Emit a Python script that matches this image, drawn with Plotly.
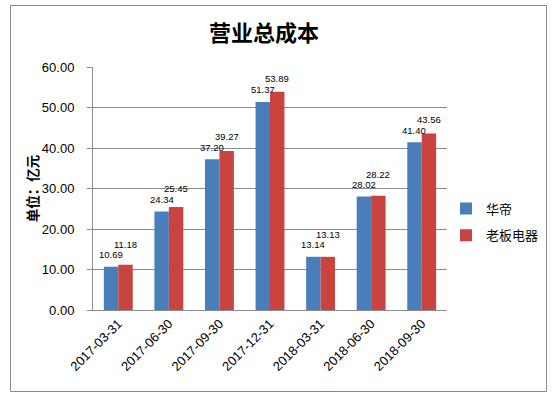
import plotly.graph_objects as go

categories = ["2017-03-31", "2017-06-30", "2017-09-30", "2017-12-31",
              "2018-03-31", "2018-06-30", "2018-09-30"]
huadi = [10.69, 24.34, 37.20, 51.37, 13.14, 28.02, 41.40]
laoban = [11.18, 25.45, 39.27, 53.89, 13.13, 28.22, 43.56]
series_names = ["华帝", "老板电器"]
y_ticks = [0, 10, 20, 30, 40, 50, 60]

BLUE = "#4A7EBB"
RED = "#C9433F"
GRID = "#8C8C8C"
FONT = "Liberation Sans, Arial, sans-serif"
CJK = "Noto Sans CJK SC, sans-serif"

W, H = 557, 397
L, R, T, B = 93, 110, 67, 87
plot_w = W - L - R
plot_h = H - T - B
ppu = plot_h / 60.0

fig = go.Figure()
fig.add_trace(go.Bar(x=categories, y=huadi, name=series_names[0], legendgroup="g1",
                     marker=dict(color=BLUE, line=dict(width=0))))
fig.add_trace(go.Bar(x=categories, y=laoban, name=series_names[1], legendgroup="g2",
                     marker=dict(color=RED, line=dict(width=0))))

slot = plot_w / len(categories)
bar_w = slot / 3.5
annotations = []
for c, b, r in zip(categories, huadi, laoban):
    annotations.append(dict(x=c, y=b, xref="x", yref="y", text=f"{b:.2f}",
                            showarrow=False, xshift=-bar_w / 2, yshift=12,
                            yanchor="middle", font=dict(size=9.5, color="#000", family=FONT)))
    rs = max(13, (b - r) * ppu + 12 + 10.5)
    annotations.append(dict(x=c, y=r, xref="x", yref="y", text=f"{r:.2f}",
                            showarrow=False, xshift=bar_w / 2, yshift=rs,
                            yanchor="middle", font=dict(size=9.5, color="#000", family=FONT)))

def px_x(p):
    return (p - L) / plot_w

def px_y(p):
    return (H - B - p) / plot_h

BL, BR, BT, BB = 10.5, 546.5, 5.5, 391.5
border = dict(color="#8A8A8A", width=1)
shapes = [
    dict(type="line", xref="paper", yref="paper", x0=px_x(BL), x1=px_x(BR), y0=px_y(BT), y1=px_y(BT), line=border, layer="above"),
    dict(type="line", xref="paper", yref="paper", x0=px_x(BL), x1=px_x(BR), y0=px_y(BB), y1=px_y(BB), line=border, layer="above"),
    dict(type="line", xref="paper", yref="paper", x0=px_x(BL), x1=px_x(BL), y0=px_y(BT), y1=px_y(BB), line=border, layer="above"),
    dict(type="line", xref="paper", yref="paper", x0=px_x(BR), x1=px_x(BR), y0=px_y(BT), y1=px_y(BB), line=border, layer="above"),
]

fig.update_layout(
    width=W, height=H,
    margin=dict(l=L, r=R, t=T, b=B, autoexpand=False),
    paper_bgcolor="white", plot_bgcolor="white",
    barmode="group", bargap=1.5 / 3.5, bargroupgap=0,
    title=dict(text="<b>营业总成本</b>", x=264 / W, xanchor="center", y=1 - 33 / H, yanchor="middle",
               font=dict(family=CJK, size=22, color="#000")),
    xaxis=dict(type="category", tickangle=-45, showline=True, linecolor=GRID, linewidth=1,
               ticks="", showgrid=False,
               tickfont=dict(family=FONT, size=13, color="#000")),
    yaxis=dict(range=[0, 60], tickvals=y_ticks, tickformat=".2f",
               showline=True, linecolor=GRID, linewidth=1,
               showgrid=True, gridcolor=GRID, gridwidth=1,
               ticks="outside", ticklen=5, tickcolor=GRID, ticklabelstandoff=10,
               zeroline=False,
               tickfont=dict(family=FONT, size=13, color="#000"),
               title=dict(text="<b>单位：亿元</b>", standoff=0,
                          font=dict(family=CJK, size=13.5, color="#000"))),
    legend=dict(x=px_x(446), xanchor="left", y=px_y(222), yanchor="middle",
                font=dict(family=CJK, size=13, color="#000"), tracegroupgap=7,
                itemwidth=30, bgcolor="rgba(0,0,0,0)"),
    annotations=annotations,
    shapes=shapes,
    showlegend=True,
)

fig.write_html("out.html", config={"displayModeBar": False},
               post_script="document.body.style.margin='0';document.body.style.overflow='hidden';")
